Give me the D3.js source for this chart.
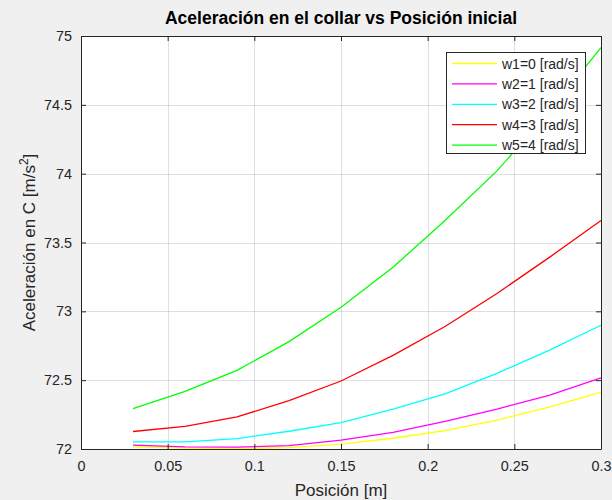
<!DOCTYPE html>
<html>
<head>
<meta charset="utf-8">
<script src="https://cdn.jsdelivr.net/npm/d3@7"></script>
<style>
  html, body { margin: 0; padding: 0; background: #f0f0f0; }
  svg { display: block; font-family: "Liberation Sans", Arial, Helvetica, sans-serif; }
</style>
</head>
<body>
<svg id="chart" width="612" height="500"></svg>
<script>
// Initial collar position [m]
const positions = [0.03, 0.06, 0.09, 0.12, 0.15, 0.18, 0.21, 0.24, 0.27, 0.30];

// Acceleration at C [m/s^2] for each angular velocity
const w1 = [72.016, 72.006, 72.003, 72.010, 72.036, 72.078, 72.133, 72.210, 72.305, 72.413];
const w2 = [72.028, 72.016, 72.013, 72.025, 72.065, 72.120, 72.200, 72.290, 72.390, 72.517];
const w3 = [72.052, 72.052, 72.076, 72.129, 72.192, 72.290, 72.400, 72.550, 72.717, 72.899];
const w4 = [72.127, 72.165, 72.233, 72.351, 72.494, 72.680, 72.890, 73.130, 73.390, 73.660];
const w5 = [72.293, 72.419, 72.571, 72.780, 73.030, 73.320, 73.660, 74.020, 74.450, 74.915];

const seriesNames = ["w1=0 [rad/s]", "w2=1 [rad/s]", "w3=2 [rad/s]", "w4=3 [rad/s]", "w5=4 [rad/s]"];
const seriesValues = [w1, w2, w3, w4, w5];

const xTicks = [0, 0.05, 0.1, 0.15, 0.2, 0.25, 0.3];
const yTicks = [72, 72.5, 73, 73.5, 74, 74.5, 75];

const colors = ["#ffff00", "#ff00ff", "#00ffff", "#ff0000", "#00ff00"];
const axisColor = "#262626";

const svg = d3.select("#chart");
const plot = { left: 81, right: 601, top: 36, bottom: 449 };

const x = d3.scaleLinear().domain([0, 0.3]).range([plot.left, plot.right]);
const y = d3.scaleLinear().domain([72, 75]).range([plot.bottom, plot.top]);

// Plot area
svg.append("rect")
  .attr("x", plot.left).attr("y", plot.top)
  .attr("width", plot.right - plot.left).attr("height", plot.bottom - plot.top)
  .attr("fill", "#ffffff");

// Grid
const grid = svg.append("g").attr("stroke", axisColor).attr("stroke-opacity", 0.15).attr("stroke-width", 1);
grid.selectAll("line.gx").data(xTicks.slice(1, -1)).join("line")
  .attr("x1", d => Math.round(x(d)) + 0.5).attr("x2", d => Math.round(x(d)) + 0.5)
  .attr("y1", plot.top).attr("y2", plot.bottom);
grid.selectAll("line.gy").data(yTicks.slice(1, -1)).join("line")
  .attr("y1", d => Math.round(y(d)) + 0.5).attr("y2", d => Math.round(y(d)) + 0.5)
  .attr("x1", plot.left).attr("x2", plot.right);

// Series lines
const line = d3.line().x(d => x(d[0])).y(d => y(d[1]));
const lines = svg.append("g").attr("fill", "none").attr("stroke-width", 1.3);
seriesValues.forEach((vals, i) => {
  lines.append("path")
    .datum(positions.map((p, k) => [p, vals[k]]))
    .attr("stroke", colors[i])
    .attr("d", line);
});

// Axes (ticks inward, box on all four sides)
const fmt = d3.format("~g");
const tickLen = 5;
function styleAxis(g) {
  g.select(".domain").attr("stroke", axisColor);
  g.selectAll(".tick line").attr("stroke", axisColor);
  g.selectAll(".tick text").attr("fill", axisColor).style("font-size", "14.4px")
    .style("font-family", "\"Liberation Sans\", Arial, sans-serif");
}
const xAxis = svg.append("g").attr("transform", `translate(0,${plot.bottom})`)
  .call(d3.axisBottom(x).tickValues(xTicks).tickFormat(fmt).tickSizeInner(-tickLen).tickSizeOuter(0).tickPadding(12));
styleAxis(xAxis);
const xAxisTop = svg.append("g").attr("transform", `translate(0,${plot.top})`)
  .call(d3.axisTop(x).tickValues(xTicks).tickFormat("").tickSizeInner(-tickLen).tickSizeOuter(0));
styleAxis(xAxisTop);
const yAxis = svg.append("g").attr("transform", `translate(${plot.left},0)`)
  .call(d3.axisLeft(y).tickValues(yTicks).tickFormat(fmt).tickSizeInner(-tickLen).tickSizeOuter(0).tickPadding(9));
styleAxis(yAxis);
const yAxisRight = svg.append("g").attr("transform", `translate(${plot.right},0)`)
  .call(d3.axisRight(y).tickValues(yTicks).tickFormat("").tickSizeInner(-tickLen).tickSizeOuter(0));
styleAxis(yAxisRight);

// Title and axis labels
svg.append("text")
  .attr("x", (plot.left + plot.right) / 2).attr("y", 24)
  .attr("text-anchor", "middle").attr("fill", "#000")
  .style("font-size", "17.5px").style("font-weight", "bold")
  .text("Aceleración en el collar vs Posición inicial");

svg.append("text")
  .attr("x", (plot.left + plot.right) / 2).attr("y", 496)
  .attr("text-anchor", "middle").attr("fill", axisColor)
  .style("font-size", "17px")
  .text("Posición [m]");

const yLabel = svg.append("text")
  .attr("transform", `translate(35,${(plot.top + plot.bottom) / 2}) rotate(-90)`)
  .attr("text-anchor", "middle").attr("fill", axisColor)
  .style("font-size", "17px");
yLabel.append("tspan").text("Aceleración en C [m/s");
yLabel.append("tspan").attr("dy", -7).style("font-size", "12px").text("2");
yLabel.append("tspan").attr("dy", 7).text("]");

// Legend
const legend = svg.append("g");
const lg = { x: 446.5, y: 52.5, w: 139, h: 101, rowStart: 63.5, rowStep: 20.4 };
legend.append("rect")
  .attr("x", lg.x).attr("y", lg.y).attr("width", lg.w).attr("height", lg.h)
  .attr("fill", "#ffffff").attr("stroke", axisColor).attr("stroke-width", 1);
seriesNames.forEach((name, i) => {
  const ry = lg.rowStart + i * lg.rowStep;
  legend.append("line")
    .attr("x1", 452).attr("x2", 497).attr("y1", ry).attr("y2", ry)
    .attr("stroke", colors[i]).attr("stroke-width", 1.3);
  legend.append("text")
    .attr("x", 502).attr("y", ry + 5)
    .attr("fill", axisColor).style("font-size", "14px")
    .text(name);
});
</script>
</body>
</html>
